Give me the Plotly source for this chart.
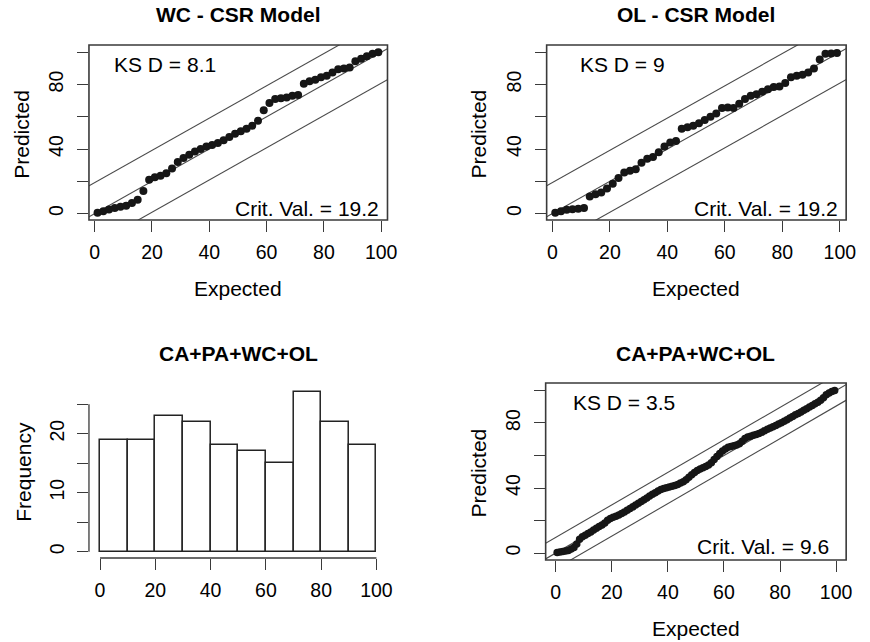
import numpy as np
import plotly.graph_objects as go

# ---- data -------------------------------------------------------------
# Expected percentiles for the two 50-point goodness-of-fit plots
expected_50 = [1, 3, 5, 7, 9, 11, 13, 15, 17, 19, 21, 23, 25, 27, 29, 31, 33, 35,
               37, 39, 41, 43, 45, 47, 49, 51, 53, 55, 57, 59, 61, 63, 65, 67, 69,
               71, 73, 75, 77, 79, 81, 83, 85, 87, 89, 91, 93, 95, 97, 99]

wc_predicted = [0.5, 1.5, 2.5, 3.5, 4.2, 4.8, 6.5, 8.5, 14, 21, 22.5, 23.5, 25, 28,
                32, 34.5, 36.5, 38.5, 40, 41.5, 42.5, 43.8, 45.5, 47.5, 49.5, 51,
                52.5, 54.5, 57.5, 64, 68.5, 71, 71.5, 72, 73, 73.5, 80.5, 82, 83,
                84.5, 85.5, 87.5, 89.5, 90, 90.5, 94.5, 96, 97.5, 99, 100]

ol_predicted = [0.5, 1.5, 2.3, 2.7, 3.0, 3.5, 10.5, 12, 13, 15.5, 18.5, 22, 25.5,
                26.5, 27.5, 31.5, 34, 35, 38, 41.5, 44, 45, 52.5, 53.5, 54.5, 56,
                58, 60, 62, 65.5, 65.8, 65.5, 68, 71, 73, 74, 75.5, 77, 78.5, 78.8,
                81, 84.5, 85.5, 86, 87.5, 90, 95.5, 99, 99.3, 99.6]

# Combined model: expected percentiles and predicted values
expected_all = [0.5, 1.5, 2.5, 3.5, 4.5, 5.5, 6.5, 7.5, 8.5, 9.5, 10.5, 11.5, 12.5,
                13.5, 14.5, 15.5, 16.5, 17.5, 18.5, 19.5, 20.5, 21.5, 22.5, 23.5,
                24.5, 25.5, 26.5, 27.5, 28.5, 29.5, 30.5, 31.5, 32.5, 33.5, 34.5,
                35.5, 36.5, 37.5, 38.5, 39.5, 40.5, 41.5, 42.5, 43.5, 44.5, 45.5,
                46.5, 47.5, 48.5, 49.5, 50.5, 51.5, 52.5, 53.5, 54.5, 55.5, 56.5,
                57.5, 58.5, 59.5, 60.5, 61.5, 62.5, 63.5, 64.5, 65.5, 66.5, 67.5,
                68.5, 69.5, 70.5, 71.5, 72.5, 73.5, 74.5, 75.5, 76.5, 77.5, 78.5,
                79.5, 80.5, 81.5, 82.5, 83.5, 84.5, 85.5, 86.5, 87.5, 88.5, 89.5,
                90.5, 91.5, 92.5, 93.5, 94.5, 95.5, 96.5, 97.5, 98.5, 99.5]

all_predicted = [0.3, 0.6, 0.9, 1.2, 1.6, 2.4, 3.4, 5.5, 8.5, 10, 11, 12, 13, 14.2,
                 15.2, 16.3, 17.3, 18.5, 20.2, 21.3, 22, 22.6, 23.4, 24.3, 25.3,
                 26.3, 27.4, 28.4, 29.5, 30.6, 31.7, 32.8, 33.9, 35, 36.1, 37.1,
                 38.1, 39, 39.7, 40.2, 40.6, 41, 41.5, 42.2, 43, 43.8, 45, 46.6,
                 48.2, 49.6, 50.8, 51.7, 52.5, 53.2, 54.2, 55.6, 57.6, 59.4, 61.2,
                 62.8, 64, 65, 65.5, 66, 66.5, 67.3, 68.8, 70.4, 71.3, 71.9, 72.4,
                 72.9, 73.5, 74.3, 75.2, 76.1, 76.9, 77.7, 78.5, 79.3, 80.1, 81,
                 82, 83, 84, 85, 85.9, 86.8, 87.8, 88.8, 89.8, 90.8, 91.8, 92.8,
                 94, 95.6, 97.3, 98.5, 99.3, 100]

# Histogram of combined percentiles
bin_edges = [0, 10, 20, 30, 40, 50, 60, 70, 80, 90, 100]
bin_counts = [19, 19, 23, 22, 18, 17, 15, 27, 22, 18]

# KS statistics and critical values
ks_d = {"wc": 8.1, "ol": 9, "all": 3.5}
crit_val = {"wc": 19.2, "ol": 19.2, "all": 9.6}

titles = ["WC - CSR Model", "OL - CSR Model", "CA+PA+WC+OL", "CA+PA+WC+OL"]

# ---- layout helpers ---------------------------------------------------
W, H = 870, 642
FONT = "Liberation Sans, Arial, Helvetica, sans-serif"
INK = "#161616"
LINE = "#3a3a3a"


def fx(px):
    return px / W


def fy(py):
    return 1 - py / H


# plot regions in pixels: (left, right, top, bottom)
regions = {
    1: (90, 392, 45, 220),
    2: (553, 856, 45, 220),
    3: (90, 392, 386, 558),
    4: (552, 856, 383, 560),
}

fig = go.Figure()


def qq_panel(idx, xs, ys, key, msize):
    xa = "x" if idx == 1 else f"x{idx}"
    ya = "y" if idx == 1 else f"y{idx}"
    c = crit_val[key]
    line_x = np.array([-20.0, 120.0])
    for off in (c, 0.0, -c):
        fig.add_trace(go.Scatter(x=line_x, y=line_x + off, mode="lines",
                                 line=dict(color="#4a4a4a", width=1.1),
                                 xaxis=xa, yaxis=ya, hoverinfo="skip",
                                 showlegend=False))
    fig.add_trace(go.Scatter(x=xs, y=ys, mode="markers",
                             marker=dict(size=msize, color=INK),
                             xaxis=xa, yaxis=ya, showlegend=False))


qq_panel(1, expected_50, wc_predicted, "wc", 8)
qq_panel(2, expected_50, ol_predicted, "ol", 8)
qq_panel(4, expected_all, all_predicted, "all", 7.5)

centers = [(a + b) / 2 for a, b in zip(bin_edges[:-1], bin_edges[1:])]
widths = [b - a for a, b in zip(bin_edges[:-1], bin_edges[1:])]
fig.add_trace(go.Bar(x=centers, y=bin_counts, width=widths,
                     marker=dict(color="white", line=dict(color="#222222", width=1.5)),
                     xaxis="x3", yaxis="y3", showlegend=False))

axis_common = dict(showgrid=False, zeroline=False, showline=False,
                   ticks="outside", ticklen=11, tickwidth=1.3, tickcolor=LINE,
                   tickfont=dict(family=FONT, size=19.5, color="black"))

qq_x = dict(tickvals=[0, 20, 40, 60, 80, 100], ticklabelstandoff=4)
qq_y = dict(tickvals=[0, 20, 40, 60, 80, 100],
            ticktext=["0", "", "40", "", "80", ""], tickangle=-90,
            ticklabelstandoff=6)

layout_axes = {}
for idx, (l, r, t, b) in regions.items():
    sx = "" if idx == 1 else str(idx)
    xd = [fx(l), fx(r)]
    yd = [fy(b), fy(t)]
    if idx in (1, 2):
        xr, yr = [-2.0, 102.2], [-4.0, 104.5]
        xax = dict(axis_common, **qq_x)
        yax = dict(axis_common, **qq_y)
    elif idx == 4:
        xr, yr = [-3.6, 103.6], [-4.3, 104.6]
        xax = dict(axis_common, **qq_x)
        yax = dict(axis_common, **qq_y)
    else:
        xr, yr = [-4.0, 104.0], [-1.08, 28.08]
        xax = dict(axis_common, tickvals=[0, 20, 40, 60, 80, 100],
                   ticklabelstandoff=4)
        yax = dict(axis_common, tickvals=[0, 5, 10, 15, 20, 25],
                   ticktext=["0", "", "10", "", "20", ""], tickangle=-90,
                   ticklabelstandoff=5)
    layout_axes[f"xaxis{sx}"] = dict(xax, domain=xd, range=xr,
                                     anchor=f"y{sx}" if sx else "y")
    layout_axes[f"yaxis{sx}"] = dict(yax, domain=yd, range=yr,
                                     anchor=f"x{sx}" if sx else "x")

fig.update_layout(
    width=W, height=H, margin=dict(l=0, r=0, t=0, b=0),
    paper_bgcolor="white", plot_bgcolor="white",
    font=dict(family=FONT, color="black"),
    showlegend=False, bargap=0,
    **layout_axes,
)

# frames around the scatter panels
for idx in (1, 2, 4):
    l, r, t, b = regions[idx]
    fig.add_shape(type="rect", xref="paper", yref="paper",
                  x0=fx(l), x1=fx(r), y0=fy(b), y1=fy(t),
                  line=dict(color=LINE, width=1.6), layer="above")

# histogram axis lines (span first to last tick)
fig.add_shape(type="line", xref="x3", yref="y3 domain", x0=0, x1=100, y0=0, y1=0,
              line=dict(color=LINE, width=1.3))
fig.add_shape(type="line", xref="x3 domain", yref="y3", x0=0, x1=0, y0=0, y1=25,
              line=dict(color=LINE, width=1.3))

ann = []


def text(x, y, s, size=21, bold=False, xanchor="center", angle=0):
    ann.append(dict(x=fx(x), y=fy(y), xref="paper", yref="paper",
                    text=f"<b>{s}</b>" if bold else s, showarrow=False,
                    xanchor=xanchor, yanchor="middle", textangle=angle,
                    font=dict(family=FONT, size=size, color="black")))


# panel titles
text(241, 14, titles[0], bold=True)
text(704, 14, titles[1], bold=True)
text(241, 353, titles[2], bold=True)
text(704, 353, titles[3], bold=True)

# axis titles
text(241, 288, "Expected")
text(704, 288, "Expected")
text(704, 628, "Expected")
text(21, 134, "Predicted", angle=-90)
text(484, 134, "Predicted", angle=-90)
text(484, 473, "Predicted", angle=-90)
text(23, 472, "Frequency", angle=-90)

# KS statistics inside the panels
text(113, 64, f"KS D = {ks_d['wc']}", xanchor="left")
text(585, 64, f"KS D = {ks_d['ol']}", xanchor="left")
text(578, 402, f"KS D = {ks_d['all']}", xanchor="left")
text(385, 208, f"Crit. Val. = {crit_val['wc']}", xanchor="right")
text(850, 208, f"Crit. Val. = {crit_val['ol']}", xanchor="right")
text(841, 546, f"Crit. Val. = {crit_val['all']}", xanchor="right")

fig.update_layout(annotations=ann)

fig.write_html("out.html")
